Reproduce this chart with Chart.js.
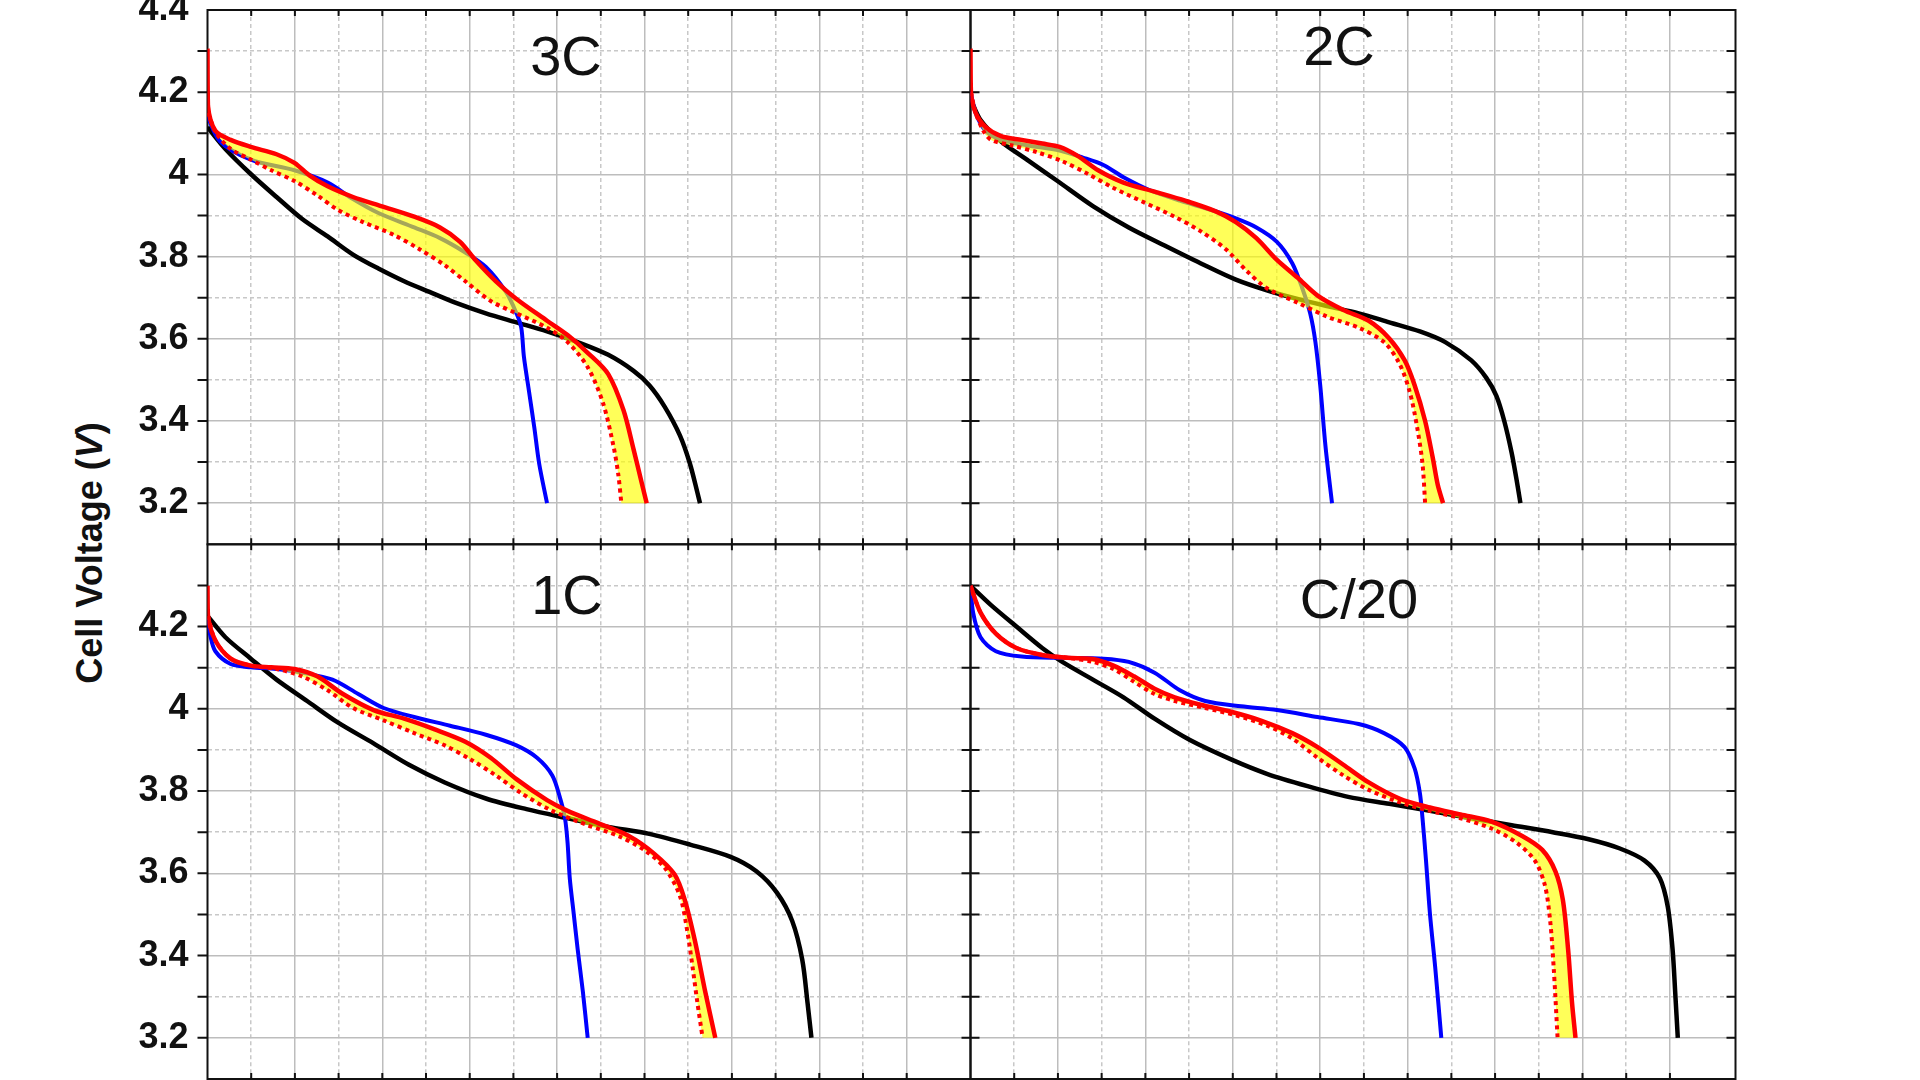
<!DOCTYPE html>
<html lang="en">
<head>
<meta charset="utf-8">
<title>Cell Voltage - discharge curves</title>
<script src="https://cdn.jsdelivr.net/npm/chart.js@4.4.1/dist/chart.umd.min.js"></script>
<style>
  html, body { margin: 0; padding: 0; background: #fff; }
  body { position: relative; width: 1920px; height: 1080px; overflow: hidden; font-family: "Liberation Sans", Arial, sans-serif; }
  canvas { position: absolute; }
  #yTitle {
    position: absolute; left: 90px; top: 553px;
    transform: translate(-50%, -50%) rotate(-90deg);
    font-weight: bold; font-size: 36px; color: #111; white-space: nowrap;
  }
</style>
</head>
<body>
<div id="yTitle">Cell Voltage (<i>V</i>)</div>
<canvas id="chart3C"></canvas>
<canvas id="chart2C"></canvas>
<canvas id="chart1C"></canvas>
<canvas id="chartC20"></canvas>

<script>
// Axis values
const VOLT_MIN = 3.1;
const VOLT_MAX = 4.4;
const voltLabels = [4.4, 4.2, 4.0, 3.8, 3.6, 3.4, 3.2];
const panelTitles = ['3C', '2C', '1C', 'C/20'];

// Curves: [x, voltage]
// 3C
const c3RedSolid = [[0,4.306],[0.001,4.167],[0.018,4.106],[0.053,4.084],[0.099,4.067],[0.158,4.049],[0.199,4.028],[0.234,3.997],[0.275,3.971],[0.333,3.945],[0.397,3.923],[0.473,3.897],[0.532,3.871],[0.578,3.836],[0.613,3.792],[0.660,3.740],[0.707,3.697],[0.777,3.644],[0.824,3.609],[0.870,3.566],[0.917,3.514],[0.952,3.426],[0.975,3.331],[0.993,3.252],[1.005,3.200]];
const c3RedDotted = [[0.001,4.150],[0.020,4.100],[0.053,4.062],[0.099,4.036],[0.146,4.010],[0.199,3.984],[0.251,3.949],[0.298,3.914],[0.356,3.884],[0.426,3.853],[0.485,3.818],[0.543,3.779],[0.590,3.740],[0.648,3.692],[0.707,3.662],[0.777,3.627],[0.824,3.592],[0.870,3.531],[0.905,3.444],[0.929,3.339],[0.940,3.270],[0.947,3.200]];
const c3Blue = [[0,4.141],[0.029,4.080],[0.099,4.036],[0.199,4.010],[0.275,3.980],[0.333,3.940],[0.391,3.906],[0.473,3.871],[0.532,3.845],[0.590,3.810],[0.637,3.775],[0.683,3.714],[0.707,3.662],[0.718,3.627],[0.724,3.557],[0.736,3.470],[0.748,3.383],[0.759,3.296],[0.777,3.200]];
const c3Black = [[0,4.115],[0.041,4.062],[0.099,4.001],[0.158,3.945],[0.216,3.892],[0.275,3.849],[0.333,3.805],[0.391,3.771],[0.450,3.740],[0.508,3.714],[0.567,3.688],[0.637,3.662],[0.707,3.640],[0.777,3.618],[0.847,3.592],[0.917,3.561],[0.975,3.522],[1.011,3.487],[1.046,3.435],[1.081,3.365],[1.104,3.296],[1.121,3.226],[1.127,3.200]];

// 2C
const c2RedSolid = [[0,4.306],[0.001,4.200],[0.012,4.149],[0.035,4.115],[0.070,4.093],[0.117,4.084],[0.164,4.075],[0.204,4.067],[0.245,4.045],[0.292,4.010],[0.350,3.980],[0.421,3.958],[0.491,3.936],[0.561,3.910],[0.607,3.884],[0.654,3.845],[0.701,3.792],[0.748,3.749],[0.794,3.705],[0.853,3.670],[0.911,3.644],[0.958,3.601],[0.993,3.548],[1.016,3.487],[1.040,3.400],[1.057,3.313],[1.069,3.244],[1.081,3.200]];
const c2RedDotted = [[0.001,4.200],[0.012,4.149],[0.030,4.105],[0.047,4.084],[0.093,4.071],[0.152,4.054],[0.210,4.032],[0.269,4.001],[0.327,3.967],[0.397,3.932],[0.467,3.897],[0.526,3.862],[0.584,3.818],[0.631,3.766],[0.678,3.723],[0.748,3.688],[0.818,3.653],[0.888,3.627],[0.946,3.592],[0.981,3.540],[1.005,3.470],[1.022,3.383],[1.034,3.296],[1.040,3.200]];
const c2Blue = [[0,4.202],[0.012,4.149],[0.035,4.106],[0.070,4.084],[0.129,4.071],[0.204,4.058],[0.257,4.041],[0.304,4.023],[0.350,3.993],[0.409,3.962],[0.479,3.936],[0.549,3.914],[0.607,3.893],[0.654,3.871],[0.701,3.836],[0.736,3.784],[0.759,3.723],[0.777,3.662],[0.789,3.592],[0.800,3.487],[0.812,3.339],[0.827,3.200]];
const c2Black = [[0,4.184],[0.023,4.132],[0.070,4.080],[0.129,4.036],[0.199,3.984],[0.280,3.923],[0.362,3.871],[0.444,3.827],[0.526,3.784],[0.607,3.744],[0.678,3.718],[0.748,3.697],[0.818,3.679],[0.888,3.662],[0.958,3.640],[1.028,3.618],[1.086,3.592],[1.145,3.548],[1.180,3.505],[1.203,3.461],[1.221,3.400],[1.238,3.322],[1.250,3.252],[1.258,3.200]];

// 1C
const c1RedSolid = [[0,4.299],[0.001,4.226],[0.018,4.166],[0.053,4.122],[0.099,4.105],[0.146,4.101],[0.199,4.097],[0.251,4.079],[0.310,4.036],[0.380,3.997],[0.450,3.976],[0.520,3.950],[0.590,3.920],[0.648,3.881],[0.707,3.829],[0.777,3.778],[0.824,3.752],[0.894,3.722],[0.964,3.691],[1.022,3.648],[1.069,3.597],[1.092,3.536],[1.116,3.433],[1.139,3.312],[1.162,3.200]];
const c1RedDotted = [[0.001,4.226],[0.018,4.166],[0.053,4.122],[0.099,4.105],[0.158,4.097],[0.216,4.079],[0.275,4.045],[0.333,4.002],[0.403,3.972],[0.473,3.941],[0.543,3.911],[0.602,3.877],[0.660,3.838],[0.718,3.795],[0.789,3.752],[0.870,3.717],[0.940,3.691],[0.999,3.657],[1.046,3.614],[1.081,3.545],[1.098,3.459],[1.110,3.372],[1.121,3.286],[1.133,3.200]];
const c1Blue = [[0,4.220],[0.006,4.180],[0.018,4.140],[0.053,4.109],[0.099,4.101],[0.158,4.097],[0.216,4.088],[0.286,4.071],[0.345,4.036],[0.403,4.002],[0.473,3.980],[0.555,3.959],[0.637,3.937],[0.707,3.911],[0.754,3.881],[0.789,3.838],[0.806,3.786],[0.818,3.734],[0.824,3.674],[0.829,3.588],[0.838,3.502],[0.847,3.416],[0.859,3.312],[0.870,3.200]];
const c1Black = [[0,4.226],[0.041,4.174],[0.099,4.122],[0.158,4.071],[0.228,4.019],[0.298,3.967],[0.380,3.916],[0.461,3.864],[0.543,3.821],[0.637,3.782],[0.730,3.756],[0.824,3.734],[0.917,3.713],[1.011,3.696],[1.104,3.670],[1.197,3.640],[1.256,3.605],[1.303,3.553],[1.338,3.484],[1.361,3.390],[1.373,3.286],[1.382,3.200]];

// C/20
const c20RedSolid = [[0,4.299],[0.023,4.234],[0.058,4.183],[0.105,4.148],[0.164,4.131],[0.222,4.124],[0.280,4.121],[0.327,4.105],[0.374,4.079],[0.421,4.049],[0.467,4.028],[0.526,4.010],[0.596,3.993],[0.666,3.971],[0.736,3.941],[0.794,3.907],[0.853,3.864],[0.911,3.821],[0.981,3.782],[1.051,3.760],[1.121,3.743],[1.192,3.726],[1.262,3.691],[1.308,3.657],[1.338,3.605],[1.355,3.536],[1.367,3.416],[1.376,3.286],[1.384,3.200]];
const c20RedDotted = [[0,4.299],[0.023,4.234],[0.058,4.183],[0.105,4.148],[0.164,4.131],[0.222,4.124],[0.280,4.114],[0.327,4.097],[0.374,4.066],[0.421,4.036],[0.467,4.019],[0.537,4.002],[0.607,3.984],[0.678,3.959],[0.736,3.928],[0.794,3.881],[0.853,3.838],[0.911,3.803],[0.981,3.773],[1.051,3.752],[1.121,3.734],[1.192,3.709],[1.250,3.674],[1.291,3.631],[1.314,3.571],[1.326,3.485],[1.334,3.372],[1.343,3.200]];
const c20Blue = [[0,4.299],[0.006,4.234],[0.023,4.174],[0.058,4.140],[0.117,4.127],[0.210,4.124],[0.304,4.122],[0.362,4.114],[0.421,4.088],[0.479,4.045],[0.537,4.019],[0.619,4.006],[0.701,3.997],[0.794,3.980],[0.888,3.963],[0.946,3.941],[0.993,3.907],[1.016,3.855],[1.028,3.795],[1.034,3.734],[1.042,3.631],[1.051,3.502],[1.063,3.372],[1.077,3.200]];
const c20Black = [[0,4.299],[0.047,4.252],[0.105,4.200],[0.164,4.148],[0.210,4.114],[0.280,4.071],[0.350,4.028],[0.421,3.976],[0.502,3.924],[0.596,3.877],[0.678,3.842],[0.771,3.812],[0.864,3.786],[0.958,3.769],[1.051,3.752],[1.145,3.734],[1.238,3.717],[1.332,3.700],[1.414,3.683],[1.484,3.661],[1.542,3.631],[1.577,3.588],[1.595,3.519],[1.606,3.416],[1.612,3.312],[1.618,3.200]];

document.addEventListener('DOMContentLoaded', function() {
  // Plot boxes on the page (px)
  const panels = [
    { canvas: 'chart3C', l: 207.5, t: 10, r: 970.5, b: 544.3, xMax: 1.746, outer: true, topLabel: true,
      title: [566, 60], series: [c3RedSolid, c3RedDotted, c3Blue, c3Black] },
    { canvas: 'chart2C', l: 970.5, t: 10, r: 1735.5, b: 544.3, xMax: 1.75, outer: false, topLabel: false,
      title: [1339, 50], series: [c2RedSolid, c2RedDotted, c2Blue, c2Black] },
    { canvas: 'chart1C', l: 207.5, t: 544.3, r: 970.5, b: 1079, xMax: 1.746, outer: true, topLabel: false,
      title: [567, 599], series: [c1RedSolid, c1RedDotted, c1Blue, c1Black] },
    { canvas: 'chartC20', l: 970.5, t: 544.3, r: 1735.5, b: 1079, xMax: 1.75, outer: false, topLabel: false,
      title: [1359, 603], series: [c20RedSolid, c20RedDotted, c20Blue, c20Black] }
  ];

  const isMajor = v => Math.round(v * 10) % 2 === 0;
  const atEdge = (s, v) => v <= s.min + 1e-6 || v >= s.max - 1e-6;

  const gridColor = ctx => {
    if (!ctx.tick || atEdge(ctx.scale, ctx.tick.value)) return 'rgba(0,0,0,0)';
    return isMajor(ctx.tick.value) ? '#bdbdbd' : '#c8c8c8';
  };
  const gridDash = ctx => (ctx.tick && !isMajor(ctx.tick.value)) ? [4, 3] : [];

  // Frame, inward ticks, yellow band and panel title
  const panelDeco = {
    id: 'panelDeco',
    beforeDatasetsDraw(chart, args, opts) {
      const { ctx, chartArea: a, scales: { x, y } } = chart;
      ctx.save();
      ctx.strokeStyle = '#111';
      ctx.lineWidth = 2;
      ctx.beginPath();
      x.ticks.forEach(t => {
        if (atEdge(x, t.value)) return;
        const px = x.getPixelForValue(t.value);
        ctx.moveTo(px, a.top); ctx.lineTo(px, a.top + 6);
        ctx.moveTo(px, a.bottom); ctx.lineTo(px, a.bottom - 6);
      });
      y.ticks.forEach(t => {
        if (atEdge(y, t.value)) return;
        const py = y.getPixelForValue(t.value);
        ctx.moveTo(a.left, py); ctx.lineTo(a.left + (opts.outer ? -10 : 9), py);
        ctx.moveTo(a.right, py); ctx.lineTo(a.right - 9, py);
      });
      ctx.stroke();
      ctx.strokeRect(a.left, a.top, a.right - a.left, a.bottom - a.top);
      ctx.restore();
    },
    beforeDatasetDraw(chart, args) {
      if (args.index !== 1) return;
      const solid = chart.getDatasetMeta(0).dataset;
      const dotted = chart.getDatasetMeta(1).dataset;
      const { ctx, chartArea: a } = chart;
      solid.updateControlPoints(a, 'x');
      dotted.updateControlPoints(a, 'x');
      ctx.save();
      ctx.beginPath();
      ctx.rect(a.left, a.top, a.right - a.left, a.bottom - a.top);
      ctx.clip();
      ctx.beginPath();
      solid.pathSegment(ctx, solid.segments[0]);
      dotted.pathSegment(ctx, dotted.segments[0], { move: false, reverse: true });
      ctx.closePath();
      ctx.fillStyle = 'rgba(255,255,0,0.65)';
      ctx.fill();
      ctx.restore();
    },
    afterDraw(chart, args, opts) {
      const ctx = chart.ctx;
      ctx.save();
      ctx.fillStyle = '#111';
      ctx.font = '56px "Liberation Sans", Arial, sans-serif';
      ctx.textAlign = 'center';
      ctx.textBaseline = 'middle';
      ctx.fillText(opts.title, opts.tx, opts.ty);
      ctx.restore();
    }
  };

  const toXY = arr => arr.map(p => ({ x: p[0], y: p[1] }));

  panels.forEach((p, i) => {
    // margin around the plot box, wide enough for the tick label overhang
    const M = 60;
    const cl = p.outer ? 0 : Math.floor(p.l - 30);
    const ct = Math.floor(p.t - M);
    const cw = Math.ceil(p.r + 30 - cl);
    const ch = Math.ceil(p.b + M - ct);
    const canvas = document.getElementById(p.canvas);
    canvas.width = cw;
    canvas.height = ch;
    canvas.style.left = cl + 'px';
    canvas.style.top = ct + 'px';

    const yAxisWidth = p.outer ? p.l - cl : 0;
    const shown = p.topLabel ? voltLabels : voltLabels.filter(v => v !== VOLT_MAX);

    new Chart(canvas.getContext('2d'), {
      type: 'line',
      data: {
        datasets: [
          { label: 'red', data: toXY(p.series[0]), borderColor: '#ff0000', borderWidth: 4.5 },
          { label: 'red dotted', data: toXY(p.series[1]), borderColor: '#ff0000', borderWidth: 4, borderDash: [4, 4] },
          { label: 'blue', data: toXY(p.series[2]), borderColor: '#0000ff', borderWidth: 4 },
          { label: 'black', data: toXY(p.series[3]), borderColor: '#000000', borderWidth: 4.5 }
        ]
      },
      options: {
        responsive: false,
        animation: false,
        events: [],
        layout: {
          padding: {
            left: p.outer ? 0 : p.l - cl,
            top: p.t - ct,
            right: cl + cw - p.r,
            bottom: ct + ch - p.b
          }
        },
        elements: {
          point: { radius: 0 },
          line: { tension: 0.3, fill: false, borderCapStyle: 'butt', borderJoinStyle: 'round' }
        },
        plugins: {
          legend: { display: false },
          tooltip: { enabled: false },
          panelDeco: { outer: p.outer, title: panelTitles[i], tx: p.title[0] - cl, ty: p.title[1] - ct }
        },
        scales: {
          x: {
            type: 'linear', min: 0, max: p.xMax,
            ticks: { stepSize: 0.1, display: false, autoSkip: false },
            grid: { drawTicks: false, color: gridColor, lineWidth: 1.5 },
            border: { display: false, dash: gridDash },
            afterFit: s => { s.height = 0; }
          },
          y: {
            type: 'linear', min: VOLT_MIN, max: VOLT_MAX,
            ticks: {
              stepSize: 0.1, display: p.outer, autoSkip: false, padding: 19, color: '#111',
              font: { family: '"Liberation Sans", Arial, sans-serif', size: 36, weight: 'bold' },
              callback: value => {
                const v = Math.round(value * 10) / 10;
                return shown.includes(v) ? String(v) : '';
              }
            },
            grid: { drawTicks: false, color: gridColor, lineWidth: 1.5 },
            border: { display: false, dash: gridDash },
            afterFit: s => { s.width = yAxisWidth; }
          }
        }
      },
      plugins: [panelDeco]
    });
  });
});
</script>
</body>
</html>
